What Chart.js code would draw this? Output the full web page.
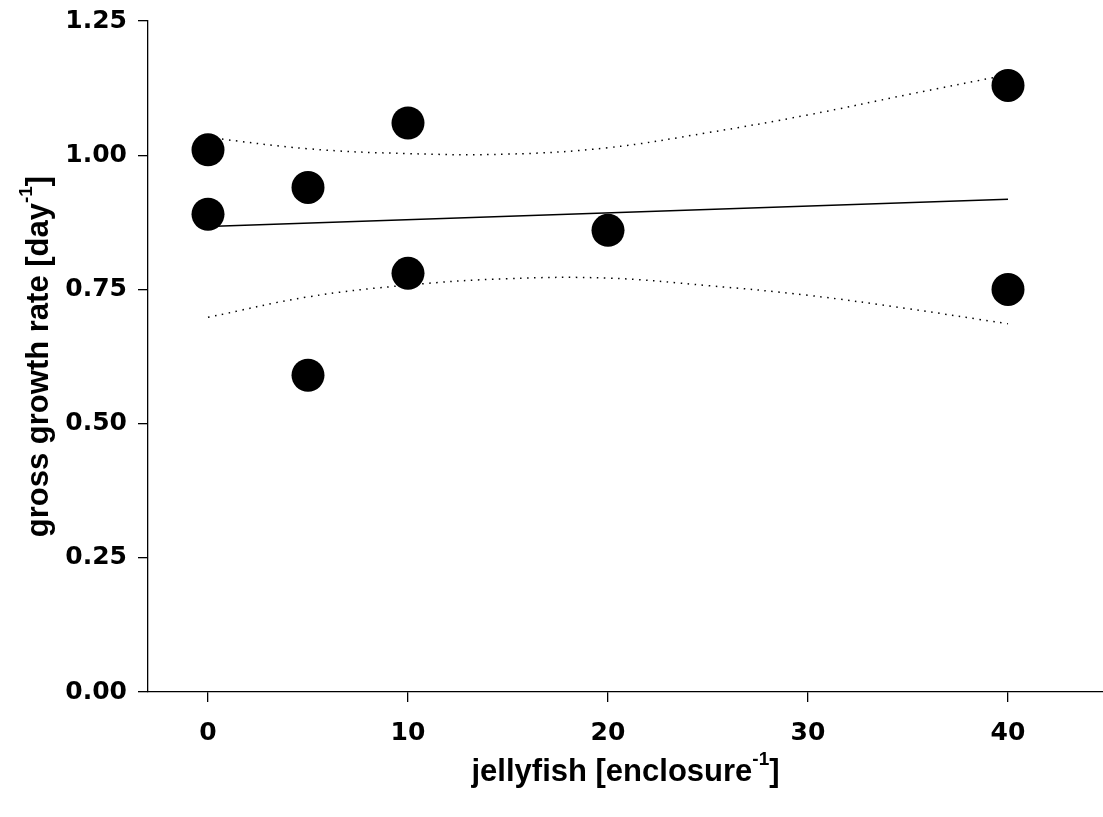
<!DOCTYPE html>
<html>
<head>
<meta charset="utf-8">
<script src="https://cdn.jsdelivr.net/npm/chart.js@4.4.0/dist/chart.umd.min.js"></script>
<style>
  html, body { margin: 0; padding: 0; background: #fff; }
</style>
</head>
<body>
<canvas id="growthChart" width="1103" height="817"></canvas>
<script>
// measured points
const jellyX = [0, 0, 5, 5, 10, 10, 20, 40, 40];
const growthY = [1.01, 0.89, 0.94, 0.59, 1.06, 0.78, 0.86, 1.13, 0.75];

// regression line ends
const fitX = [0, 40];
const fitY = [0.867, 0.918];

// confidence band
const bandX = [0, 5, 10, 15, 20, 25, 30, 35, 40];
const bandUpper = [1.033, 1.012, 1.003, 1.002, 1.014, 1.042, 1.075, 1.113, 1.150];
const bandLower = [0.698, 0.736, 0.758, 0.770, 0.771, 0.757, 0.739, 0.714, 0.686];

const xTicks = [0, 10, 20, 30, 40];
const yTicks = [0, 0.25, 0.5, 0.75, 1.0, 1.25];

const FONT = '"Liberation Sans", Arial, sans-serif';
const TICKFONT = '"DejaVu Sans", sans-serif';

function toPoints(xs, ys) {
  return xs.map((x, i) => ({ x: x, y: ys[i] }));
}

function noPadding(scale) {
  scale.paddingLeft = 0;
  scale.paddingRight = 0;
  scale.paddingTop = 0;
  scale.paddingBottom = 0;
}

function drawSup(ctx, pre, sup, post, cx, baseY) {
  const big = "bold 31px " + FONT;
  const small = "bold 19px " + FONT;
  ctx.font = big;
  const w1 = ctx.measureText(pre).width;
  const w3 = ctx.measureText(post).width;
  ctx.font = small;
  const w2 = ctx.measureText(sup).width;
  let x = cx - (w1 + w2 + w3) / 2;
  ctx.fillStyle = "#000";
  ctx.textAlign = "left";
  ctx.textBaseline = "alphabetic";
  ctx.font = big;
  ctx.fillText(pre, x, baseY);
  x += w1;
  ctx.font = small;
  ctx.fillText(sup, x, baseY - 16);
  x += w2;
  ctx.font = big;
  ctx.fillText(post, x, baseY);
}

// axis titles with superscripts
const axisTitles = {
  id: "axisTitles",
  afterDraw(chart) {
    const ctx = chart.ctx;
    const area = chart.chartArea;
    ctx.save();
    drawSup(ctx, "jellyfish [enclosure", "-1", "]", (area.left + area.right) / 2, 781);
    ctx.translate(48, (area.top + area.bottom) / 2);
    ctx.rotate(-Math.PI / 2);
    drawSup(ctx, "gross growth rate [day", "-1", "]", 0, 0);
    ctx.restore();
  },
};

const ctx = document.getElementById("growthChart").getContext("2d");
const growthChart = new Chart(ctx, {
  type: "scatter",
  data: {
    datasets: [
      {
        label: "data",
        data: toPoints(jellyX, growthY),
        backgroundColor: "#000",
        borderWidth: 0,
        pointRadius: 16.5,
        pointHoverRadius: 16.5,
      },
      {
        label: "fit",
        data: toPoints(fitX, fitY),
        showLine: true,
        borderColor: "#000",
        borderWidth: 1.5,
        pointRadius: 0,
      },
      {
        label: "upper",
        data: toPoints(bandX, bandUpper),
        showLine: true,
        borderColor: "#000",
        borderWidth: 1.5,
        borderDash: [1.5, 5.5],
        tension: 0.4,
        pointRadius: 0,
      },
      {
        label: "lower",
        data: toPoints(bandX, bandLower),
        showLine: true,
        borderColor: "#000",
        borderWidth: 1.5,
        borderDash: [1.5, 5.5],
        tension: 0.4,
        pointRadius: 0,
      },
    ],
  },
  options: {
    responsive: false,
    animation: false,
    layout: { autoPadding: false, padding: { top: 21, right: 0, left: 0, bottom: 0 } },
    plugins: {
      legend: { display: false },
      tooltip: { enabled: false },
    },
    scales: {
      x: {
        type: "linear",
        min: -3,
        max: 44.75,
        afterBuildTicks: (scale) => {
          scale.ticks = xTicks.map((v) => ({ value: v }));
        },
        afterFit: (scale) => {
          scale.height = 125;
          noPadding(scale);
        },
        grid: { drawOnChartArea: false, drawTicks: true, tickLength: 10, color: "#000", lineWidth: 1.3 },
        border: { display: true, color: "#000", width: 1.3 },
        ticks: {
          color: "#000",
          padding: 16,
          maxRotation: 0,
          font: { family: TICKFONT, size: 25, weight: "bold" },
          callback: (v) => String(v),
        },
      },
      y: {
        type: "linear",
        min: 0,
        max: 1.25,
        afterBuildTicks: (scale) => {
          scale.ticks = yTicks.map((v) => ({ value: v }));
        },
        afterFit: (scale) => {
          scale.width = 148;
          noPadding(scale);
        },
        grid: { drawOnChartArea: false, drawTicks: true, tickLength: 10, color: "#000", lineWidth: 1.3 },
        border: { display: true, color: "#000", width: 1.3 },
        ticks: {
          color: "#000",
          padding: 11,
          font: { family: TICKFONT, size: 25, weight: "bold" },
          callback: (v) => Number(v).toFixed(2),
        },
      },
    },
  },
  plugins: [axisTitles],
});
</script>
</body>
</html>
